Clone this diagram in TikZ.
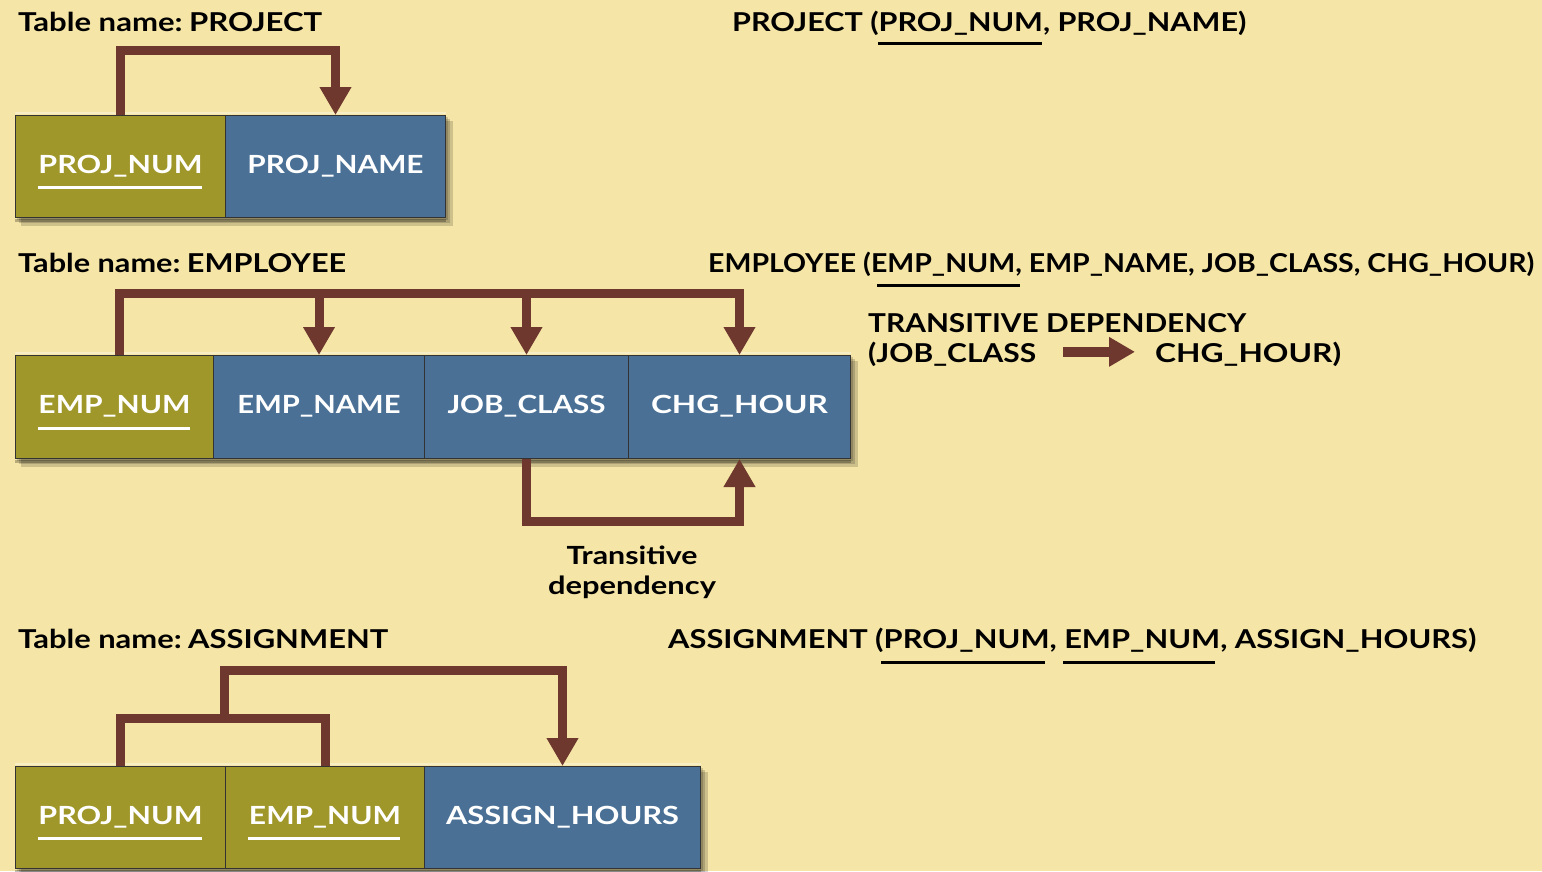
\documentclass[tikz,border=0pt]{standalone}
\usepackage{fontspec}
\setmainfont{Lato}
\usetikzlibrary{arrows.meta}
\definecolor{bg}{RGB}{245,229,166}
\definecolor{olive}{RGB}{160,151,42}
\definecolor{steel}{RGB}{74,112,150}
\definecolor{brn}{RGB}{110,56,46}
\newcommand\fw[2]{\resizebox{#1pt}{\height}{#2}}
\tikzset{
  cell/.style={draw=black!80, line width=1pt, minimum height=102pt, inner sep=0pt,
    text=white, font=\fontsize{25}{25}\selectfont\bfseries, text height=13pt, text depth=0pt,
    anchor=north west},
  keycell/.style={cell, fill=olive},
  attcell/.style={cell, fill=steel},
  lbl/.style={anchor=base west, inner sep=0pt, font=\fontsize{26}{26}\selectfont\bfseries},
  dep/.style={draw=brn, line width=9pt},
  deparrow/.style={dep, -{Triangle[width=30pt,length=28pt]}},
  shade1/.style={fill=black, opacity=.16},
  hilite/.style={draw=white, opacity=.35, line width=2pt},
  lolite/.style={draw=black, opacity=.25, line width=3pt},
  wul/.style={draw=white, line width=3pt},
  bul/.style={draw=black, line width=3pt},
}
\begin{document}
\begin{tikzpicture}[x=1pt,y=-1pt]
\useasboundingbox (0,0) rectangle (1542,871);
\fill[bg] (0,0) rectangle (1542,871);

% ---------- PROJECT ----------
\node[lbl] (t1) at (18,31) {\fw{304}{Table name:\hspace{-3pt} PROJECT}};
\node[lbl] (r1) at (732,31) {\fw{514}{PROJECT (PROJ\_NUM, PROJ\_NAME)}};
\draw[bul] (878,43) -- (1042,43);
\fill[shade1] (21,121) rectangle (453,226);
\fill[shade1] (19,119) rectangle (450,223);
\fill[shade1] (17,117) rectangle (448,220);
\node[keycell, minimum width=210pt] (p1) at (15,115) {\fw{164}{PROJ\_NUM}};
\node[attcell, minimum width=220pt] (p2) at (225,115) {\fw{176}{PROJ\_NAME}};
\draw[hilite] ([yshift=2pt]p1.north west) -- ([yshift=2pt]p2.north east);
\draw[lolite] ([yshift=-2pt]p1.south west) -- ([yshift=-2pt]p2.south east);
\draw[wul] (38,187) -- (202,187);
\draw[deparrow] (p1.north) -- ++(0,-65) -| (p2.north);

% ---------- EMPLOYEE ----------
\node[lbl] (t2) at (18,272) {\fw{328}{Table name:\hspace{-3pt} EMPLOYEE}};
\node[lbl] (r2) at (708,272) {\fw{826}{EMPLOYEE (EMP\_NUM, EMP\_NAME, JOB\_CLASS, CHG\_HOUR)}};
\draw[bul] (877,285) -- (1020,285);
\node[lbl] (td1) at (868,332) {\fw{378}{TRANSITIVE DEPENDENCY}};
\node[lbl] (td2) at (868,362) {\fw{168}{(JOB\_CLASS}};
\node[lbl] (td3) at (1155,362) {\fw{186}{CHG\_HOUR)}};
\draw[draw=brn, line width=10pt, -{Triangle[width=28pt,length=26pt]},
      shorten <=27pt, shorten >=20pt] ([yshift=2pt]td2.east) -- ([yshift=2pt]td3.west);
\fill[shade1] (21,361) rectangle (858,467);
\fill[shade1] (19,359) rectangle (855,464);
\fill[shade1] (17,357) rectangle (853,461);
\node[keycell, minimum width=198pt, minimum height=103pt] (e1) at (15,355) {\fw{152}{EMP\_NUM}};
\node[attcell, minimum width=211pt, minimum height=103pt] (e2) at (213,355) {\fw{163}{EMP\_NAME}};
\node[attcell, minimum width=204pt, minimum height=103pt] (e3) at (424,355) {\fw{158}{JOB\_CLASS}};
\node[attcell, minimum width=222pt, minimum height=103pt] (e4) at (628,355) {\fw{177}{CHG\_HOUR}};
\draw[hilite] ([yshift=2pt]e1.north west) -- ([yshift=2pt]e4.north east);
\draw[lolite] ([yshift=-2pt]e1.south west) -- ([yshift=-2pt]e4.south east);
\draw[wul] (38,428) -- (190,428);
\coordinate (etop) at (0,293);
\draw[deparrow] ([xshift=5pt]e1.north) |- (e4.north |- etop) -- (e4.north);
\draw[deparrow] (e2.north |- etop) -- (e2.north);
\draw[deparrow] (e3.north |- etop) -- (e3.north);
\draw[deparrow] (e3.south) -- ++(0,62) -| (e4.south);
\node[inner sep=0pt, anchor=north, align=center, font=\fontsize{25}{30}\selectfont\bfseries]
  (tr) at (632,546) {\fw{131}{Transitive}\\\fw{168}{dependency}};

% ---------- ASSIGNMENT ----------
\node[lbl] (t3) at (18,648) {\fw{370}{Table name:\hspace{-3pt} ASSIGNMENT}};
\node[lbl] (r3) at (668,648) {\fw{808}{ASSIGNMENT (PROJ\_NUM, EMP\_NUM, ASSIGN\_HOURS)}};
\draw[bul] (881,662) -- (1045,662);
\draw[bul] (1063,662) -- (1215,662);
\fill[shade1] (21,772) rectangle (708,878);
\fill[shade1] (19,770) rectangle (705,874);
\fill[shade1] (17,768) rectangle (703,871);
\node[keycell, minimum width=210pt] (a1) at (15,766) {\fw{164}{PROJ\_NUM}};
\node[keycell, minimum width=199pt] (a2) at (225,766) {\fw{152}{EMP\_NUM}};
\node[attcell, minimum width=276pt] (a3) at (424,766) {\fw{233}{ASSIGN\_HOURS}};
\draw[hilite] ([yshift=2pt]a1.north west) -- ([yshift=2pt]a3.north east);
\draw[lolite] ([yshift=-2pt]a1.south west) -- ([yshift=-2pt]a3.south east);
\draw[wul] (38,838) -- (202,838);
\draw[wul] (248,838) -- (400,838);
\draw[dep] (a1.north) -- ++(0,-48) -| (a2.north);
\coordinate (aj) at (224,718);
\coordinate (atop) at (0,670);
\draw[deparrow] (aj) |- (a3.north |- atop) -- (a3.north);
\end{tikzpicture}
\end{document}
